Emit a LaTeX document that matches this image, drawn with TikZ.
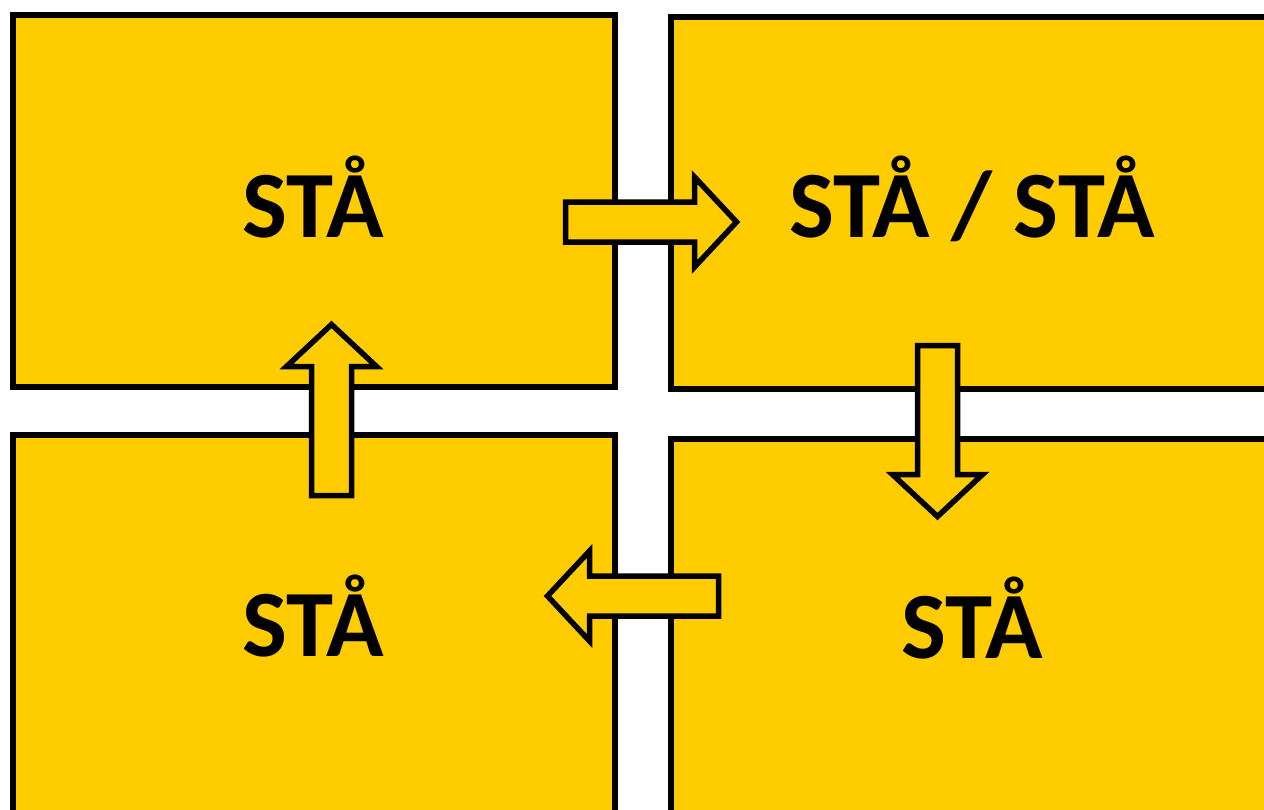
\documentclass[tikz,border=0pt]{standalone}
\usepackage{fontspec}
\setmainfont{Carlito}
\usetikzlibrary{positioning}
\definecolor{stayellow}{HTML}{FFCC00}
\tikzset{
  panel/.style={draw=black, line width=0.055cm, fill=stayellow, inner sep=0pt,
    anchor=north west},
  panellabel/.style={anchor=base, inner sep=0pt, font=\bfseries\fontsize{27}{32}\selectfont},
  blockarr/.style={draw=black, line width=0.055cm, fill=stayellow, line join=miter}
}
\begin{document}
\begin{tikzpicture}[x=0.01cm,y=-0.01cm]
  \clip (0,0) rectangle (1264,809);
  \fill[white] (0,0) rectangle (1264,809);
  % four panels
  \node[panel, minimum width=6.02cm, minimum height=3.72cm] (tl) at (10,12) {};
  \node[panel, minimum width=6.06cm, minimum height=3.72cm] (tr) at (668,14) {};
  \node[panel, minimum width=6.02cm, minimum height=3.82cm] (bl) at (10,432) {};
  \node[panel, minimum width=6.06cm, minimum height=3.78cm] (br) at (668,436) {};
  % labels
  \node[panellabel] (tllab) at (313,237) {STÅ};
  \node[panellabel] (trlab) at (972,237) {STÅ / STÅ};
  \node[panellabel] (bllab) at (313,656) {STÅ};
  \node[panellabel] (brlab) at (972,658) {STÅ};
  % block arrows: tail x/tail y/angle
  \foreach \x/\y/\ang in {565.5/222/0, 331.5/495.5/90, 937.5/345.5/-90, 718.5/596/180} {
    \draw[blockarr, shift={(\x,\y)}, rotate=\ang]
      (0,-20) -- (129,-20) -- (129,-45) -- (171,0) -- (129,45) -- (129,20) -- (0,20) -- cycle;
  }
\end{tikzpicture}
\end{document}
